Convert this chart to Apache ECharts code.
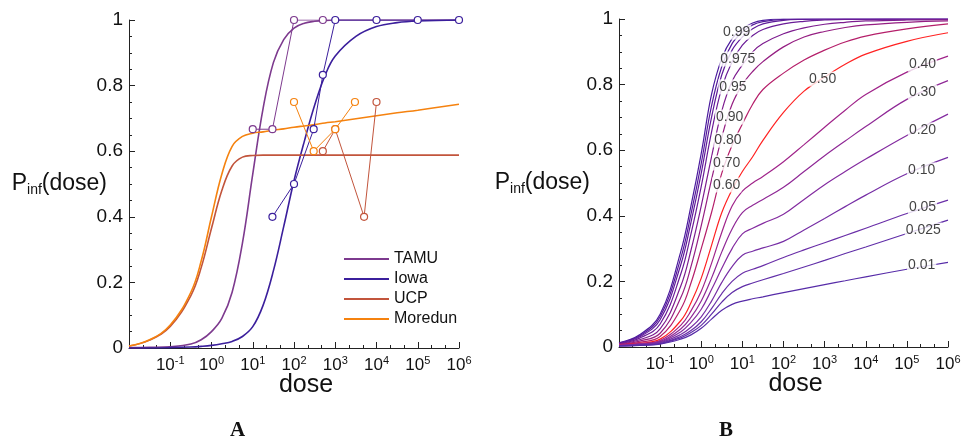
<!DOCTYPE html>
<html><head><meta charset="utf-8">
<script src="https://cdn.jsdelivr.net/npm/echarts@6/dist/echarts.min.js"></script>
<style>html,body{margin:0;padding:0;background:#fff}#c{width:963px;height:439px}</style>
</head><body><div id="c"></div>
<script>
// ---------- Panel A: model curves (x = log10 dose) ----------
const logDoseA = [-2,-1.5,-1,-0.5,-0.25,0,0.25,0.5,0.75,1,1.25,1.5,1.75,2,2.25,2.5,2.75,3,3.5,4,4.5,5,6];
const tamuCurve = [0.001,0.002,0.004,0.012,0.025,0.05,0.09,0.17,0.32,0.53,0.73,0.87,0.94,0.975,0.99,0.996,0.999,1,1,1,1,1,1];
const iowaCurve = [0,0,0.001,0.003,0.005,0.008,0.013,0.02,0.035,0.065,0.13,0.235,0.37,0.51,0.63,0.74,0.83,0.89,0.95,0.98,0.992,0.997,1];
const ucpCurve = [0.006,0.024,0.066,0.16,0.245,0.365,0.48,0.555,0.582,0.587,0.588,0.588,0.588,0.588,0.588,0.588,0.588,0.588,0.588,0.588,0.588,0.588,0.588];
const moredunCurve = [0.006,0.025,0.07,0.17,0.265,0.40,0.53,0.615,0.645,0.655,0.659,0.664,0.668,0.673,0.677,0.681,0.686,0.690,0.699,0.708,0.717,0.725,0.743];

// ---------- Panel A: observed data (dose, fraction infected) ----------
const tamuDose = [10,30,100,500];           const tamuObs = [0.667,0.667,1,1];
const iowaDose = [30,100,300,500,1000,1e4,1e5,1e6]; const iowaObs = [0.4,0.5,0.667,0.833,1,1,1,1];
const ucpDose = [500,1000,5000,10000];      const ucpObs = [0.6,0.667,0.4,0.75];
const moredunDose = [100,300,1000,3000];    const moredunObs = [0.75,0.6,0.667,0.75];

// ---------- Panel B: family of curves ----------
const logDoseB = [-2,-1.5,-1,-0.5,-0.25,0,0.25,0.5,0.75,1,1.25,1.5,2,2.5,3,3.5,4,5,6];
const curveNamesB = ['0.99','0.975','0.95','0.90','0.80','0.70','0.60','0.50','0.40','0.30','0.20','0.10','0.05','0.025','0.01'];
const b099  = [0.013,0.037,0.10,0.29,0.43,0.59,0.77,0.88,0.94,0.97,0.988,0.996,1,1,1,1,1,1,1];
const b0975 = [0.012,0.034,0.092,0.27,0.405,0.56,0.735,0.855,0.925,0.96,0.982,0.992,0.999,1,1,1,1,1,1];
const b095  = [0.011,0.031,0.083,0.25,0.38,0.53,0.70,0.83,0.905,0.945,0.97,0.985,0.996,0.999,1,1,1,1,1];
const b090  = [0.010,0.027,0.07,0.222,0.345,0.49,0.655,0.79,0.87,0.92,0.95,0.968,0.985,0.993,0.997,0.999,0.999,1,1];
const b080  = [0.009,0.022,0.055,0.185,0.295,0.43,0.58,0.72,0.81,0.86,0.90,0.925,0.955,0.973,0.984,0.99,0.994,0.997,0.998];
const b070  = [0.008,0.018,0.042,0.15,0.245,0.37,0.51,0.64,0.74,0.80,0.84,0.87,0.915,0.945,0.962,0.974,0.982,0.99,0.994];
const b060  = [0.007,0.014,0.032,0.115,0.195,0.30,0.41,0.53,0.615,0.68,0.74,0.785,0.835,0.875,0.905,0.93,0.948,0.97,0.985];
const b050  = [0.006,0.011,0.024,0.08,0.135,0.21,0.31,0.41,0.48,0.535,0.58,0.63,0.715,0.78,0.823,0.862,0.893,0.932,0.958];
const b040  = [0.005,0.010,0.02,0.066,0.11,0.17,0.255,0.35,0.43,0.475,0.50,0.52,0.565,0.617,0.67,0.722,0.77,0.838,0.887];
const b030  = [0.005,0.009,0.017,0.055,0.09,0.14,0.21,0.29,0.36,0.41,0.432,0.45,0.487,0.535,0.583,0.628,0.672,0.755,0.812];
const b020  = [0.004,0.008,0.015,0.046,0.075,0.115,0.175,0.24,0.30,0.345,0.362,0.377,0.405,0.45,0.495,0.535,0.573,0.645,0.71];
const b010  = [0.004,0.007,0.013,0.038,0.06,0.092,0.14,0.197,0.245,0.28,0.292,0.302,0.322,0.357,0.392,0.428,0.463,0.528,0.578];
const b005  = [0.004,0.006,0.011,0.032,0.05,0.077,0.117,0.163,0.20,0.225,0.237,0.248,0.273,0.296,0.318,0.34,0.362,0.407,0.448];
const b0025 = [0.003,0.006,0.010,0.028,0.044,0.066,0.10,0.137,0.166,0.184,0.195,0.205,0.224,0.244,0.264,0.285,0.305,0.346,0.387];
const b001  = [0.003,0.005,0.009,0.024,0.037,0.057,0.085,0.112,0.13,0.14,0.147,0.153,0.166,0.178,0.19,0.202,0.214,0.237,0.258];
const curvesB = [b099,b0975,b095,b090,b080,b070,b060,b050,b040,b030,b020,b010,b005,b0025,b001];

// curve labels (log10 dose, value)
const labelLogDoseB = [0.86,0.89,0.77,0.69,0.65,0.62,0.62,2.95,5.38,5.38,5.38,5.36,5.38,5.40,5.36];
const labelValueB   = [0.960,0.878,0.793,0.701,0.631,0.561,0.494,0.817,0.862,0.777,0.662,0.540,0.427,0.357,0.250];

// tick labels
const xTickExponents = [-2,-1,0,1,2,3,4,5,6];
const yTickValues = [0,0.2,0.4,0.6,0.8,1];

// ---------- styling ----------
const FONT = 'Liberation Sans, Arial, Helvetica, sans-serif';
const colorsA = {TAMU:'#7d3a8e', Iowa:'#3b1f9c', UCP:'#c2553c', Moredun:'#f5820f'};
const colorsB = ['#4b1b9e','#551b9c','#5e1b9a','#6a1b97','#7d1c8f','#951e82','#b51f6a','#ff2222','#a0248a','#8f2896','#842ca0','#762ea5','#6a2fa8','#602ea8','#572ca8'];

function xAxisFor(gi){
  return {
    type:'value', gridIndex:gi, min:-2, max:6, interval:1,
    axisLine:{show:true,onZero:false,lineStyle:{color:'#222',width:1}},
    axisTick:{show:true,inside:true,length:6,lineStyle:{color:'#222',width:1}},
    minorTick:{show:true,splitNumber:3,length:3,lineStyle:{color:'#222',width:1}},
    splitLine:{show:false}, minorSplitLine:{show:false},
    axisLabel:{margin:7,color:'#111',fontFamily:FONT,
      formatter:function(v){ if(!xTickExponents.includes(v) || v===-2) return ''; return '{b|10}{s|'+v+'}'; },
      rich:{b:{fontSize:17,fontFamily:FONT,color:'#111'},s:{fontSize:11,fontFamily:FONT,color:'#111',padding:[0,0,10,0]}}},
    name:'dose', nameLocation:'middle', nameGap:25, nameMoveOverlap:false,
    nameTextStyle:{fontSize:25,color:'#111',fontFamily:FONT,padding:[0,0,0,24]}
  };
}
function yAxisFor(gi,gap){
  return {
    type:'value', gridIndex:gi, min:0, max:1, interval:0.2,
    axisLine:{show:true,onZero:false,lineStyle:{color:'#222',width:1}},
    axisTick:{show:true,inside:true,length:6,lineStyle:{color:'#222',width:1}},
    minorTick:{show:true,splitNumber:4,length:3,lineStyle:{color:'#222',width:1}},
    splitLine:{show:false}, minorSplitLine:{show:false},
    axisLabel:{margin:6,fontSize:19,color:'#111',fontFamily:FONT,
      formatter:function(v){ return v===0?'0':(v===1?'1':v.toFixed(1)); }},
    name:'{p|P}{s|inf}{p|(dose)}', nameLocation:'middle', nameRotate:0, nameGap:gap, nameMoveOverlap:false,
    nameTextStyle:{fontFamily:FONT,color:'#111',
      rich:{p:{fontSize:23,fontFamily:FONT,color:'#111'},s:{fontSize:14,fontFamily:FONT,color:'#111',padding:[12,0,0,0]}}}
  };
}
function pairs(xs,ys){ return xs.map((x,i)=>[x,ys[i]]); }
function pairsDose(ds,ys){ return ds.map((d,i)=>[Math.log10(d),ys[i]]); }

const series = [];
// Panel A curves
[['TAMU',tamuCurve],['Iowa',iowaCurve],['UCP',ucpCurve],['Moredun',moredunCurve]].forEach(([n,arr])=>{
  series.push({name:n,type:'line',xAxisIndex:0,yAxisIndex:0,data:pairs(logDoseA,arr),
    smooth:0.4,symbol:'none',lineStyle:{color:colorsA[n],width:1.6},itemStyle:{color:colorsA[n]},z:2});
});
// Panel A observations
[['TAMU',tamuDose,tamuObs],['Iowa',iowaDose,iowaObs],['UCP',ucpDose,ucpObs],['Moredun',moredunDose,moredunObs]].forEach(([n,d,o])=>{
  series.push({name:n+' data',type:'line',xAxisIndex:0,yAxisIndex:0,data:pairsDose(d,o),
    symbol:'circle',symbolSize:7,showSymbol:true,lineStyle:{color:colorsA[n],width:1},
    itemStyle:{color:'#fff',borderColor:colorsA[n],borderWidth:1.2},z:3});
});
// Panel B curves
curvesB.forEach((arr,i)=>{
  series.push({name:curveNamesB[i],type:'line',xAxisIndex:1,yAxisIndex:1,data:pairs(logDoseB,arr),
    smooth:0.4,symbol:'none',lineStyle:{color:colorsB[i],width:1.2},z:2});
});
// Panel B labels
series.push({name:'labels',type:'scatter',xAxisIndex:1,yAxisIndex:1,symbolSize:1,
  itemStyle:{color:'rgba(255,255,255,0)'},z:10,
  data:labelLogDoseB.map((x,i)=>({value:[x,labelValueB[i]],name:curveNamesB[i]})),
  label:{show:true,position:'inside',formatter:'{b}',fontSize:14,fontFamily:FONT,color:'#111',
    backgroundColor:'#fff',padding:[1,1,0,1]}});

const chart = echarts.init(document.getElementById('c'),null,{renderer:'canvas'});
chart.setOption({
  animation:false,
  backgroundColor:'#fff',
  textStyle:{fontFamily:FONT},
  grid:[{left:129,top:20,width:330,height:328,outerBoundsMode:'none',containLabel:false},
        {left:619,top:19,width:329,height:328,outerBoundsMode:'none',containLabel:false}],
  xAxis:[xAxisFor(0),xAxisFor(1)],
  yAxis:[yAxisFor(0,22),yAxisFor(1,29)],
  legend:{data:['TAMU','Iowa','UCP','Moredun'],orient:'vertical',left:344,top:251,padding:0,
    icon:'rect',itemWidth:45,itemHeight:2,itemGap:4,
    textStyle:{fontSize:16,color:'#111',fontFamily:FONT,lineHeight:15},selectedMode:false},
  graphic:[
    {type:'text',left:230,top:420,style:{text:'A',fontSize:21,fontWeight:'bold',fontFamily:'Liberation Serif, Times New Roman, serif',fill:'#111'}},
    {type:'text',left:719,top:420,style:{text:'B',fontSize:21,fontWeight:'bold',fontFamily:'Liberation Serif, Times New Roman, serif',fill:'#111'}}
  ],
  series:series
});
</script></body></html>
